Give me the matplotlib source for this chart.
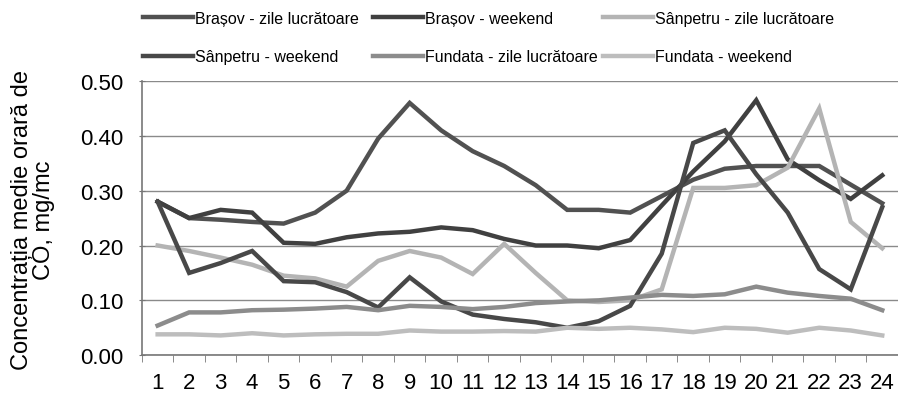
import matplotlib
matplotlib.use("Agg")
import matplotlib.pyplot as plt
from matplotlib.ticker import FixedLocator, FormatStrFormatter

plt.rcParams['font.family'] = ['Liberation Sans', 'DejaVu Sans']

# ore
hours = list(range(1, 25))

brasov_zile = [0.28, 0.25, 0.247, 0.243, 0.24, 0.26, 0.30, 0.395, 0.46, 0.41, 0.372, 0.345,
               0.31, 0.265, 0.265, 0.26, 0.29, 0.32, 0.34, 0.345, 0.345, 0.345, 0.311, 0.277]
brasov_weekend = [0.28, 0.25, 0.265, 0.26, 0.205, 0.203, 0.215, 0.222, 0.225, 0.233, 0.228, 0.212,
                  0.20, 0.20, 0.195, 0.21, 0.273, 0.335, 0.39, 0.465, 0.357, 0.319, 0.285, 0.328]
sanpetru_zile = [0.20, 0.19, 0.178, 0.165, 0.145, 0.14, 0.125, 0.172, 0.19, 0.178, 0.148, 0.203,
                 0.15, 0.10, 0.097, 0.10, 0.12, 0.305, 0.305, 0.31, 0.342, 0.45, 0.243, 0.195]
sanpetru_weekend = [0.28, 0.15, 0.168, 0.19, 0.135, 0.133, 0.115, 0.087, 0.142, 0.098, 0.074, 0.066,
                    0.06, 0.05, 0.062, 0.09, 0.185, 0.387, 0.41, 0.33, 0.26, 0.157, 0.12, 0.27]
fundata_zile = [0.054, 0.078, 0.078, 0.082, 0.083, 0.085, 0.088, 0.082, 0.09, 0.088, 0.084, 0.088,
                0.095, 0.098, 0.10, 0.105, 0.11, 0.108, 0.111, 0.125, 0.114, 0.108, 0.103, 0.082]
fundata_weekend = [0.038, 0.038, 0.036, 0.04, 0.036, 0.038, 0.039, 0.039, 0.045, 0.043, 0.043, 0.044,
                   0.043, 0.05, 0.048, 0.05, 0.047, 0.042, 0.05, 0.048, 0.041, 0.05, 0.045, 0.036]

series = [
    ("Brașov - zile lucrătoare", brasov_zile, "#515151"),
    ("Brașov - weekend", brasov_weekend, "#404040"),
    ("Sânpetru - zile lucrătoare", sanpetru_zile, "#b4b4b4"),
    ("Sânpetru - weekend", sanpetru_weekend, "#484848"),
    ("Fundata - zile lucrătoare", fundata_zile, "#8c8c8c"),
    ("Fundata - weekend", fundata_weekend, "#bdbdbd"),
]

fig = plt.figure(figsize=(8.98, 4.02), dpi=100)
ax = fig.add_axes([0.158, 0.114, 0.842, 0.682])

handles = {}
for name, vals, col in series:
    ln, = ax.plot(hours, vals, color=col, lw=3.2, solid_joinstyle='miter', label=name)
    handles[name] = ln

ax.set_xlim(0.5, 24.5)
ax.set_ylim(0, 0.5)
ax.set_yticks([0, 0.1, 0.2, 0.3, 0.4, 0.5])
ax.yaxis.set_major_formatter(FormatStrFormatter('%.2f'))
ax.set_xticks(hours)
ax.xaxis.set_minor_locator(FixedLocator([h + 0.5 for h in range(0, 25)]))
ax.tick_params(axis='x', which='major', length=0, labelsize=16, pad=12)
ax.tick_params(axis='x', which='minor', length=5, color='#777777', direction='out')
ax.tick_params(axis='y', length=5, color='#777777', direction='inout', labelsize=16, pad=11)

ax.grid(axis='y', color='#8a8a8a', lw=1)
ax.set_axisbelow(True)
for s in ['top', 'right']:
    ax.spines[s].set_visible(False)
for s in ['left', 'bottom']:
    ax.spines[s].set_color('#777777')
    ax.spines[s].set_linewidth(1.2)

fig.text(33 / 898, 1 - 220 / 402, "Concentrația medie orară de\nCO, mg/mc",
         rotation=90, ha='center', va='center', fontsize=17, linespacing=1.05)

# legenda: 3 coloane a cate 2 intrari, fiecare pusa separat
columns = [
    (143, ["Brașov - zile lucrătoare", "Sânpetru - weekend"]),
    (373, ["Brașov - weekend", "Fundata - zile lucrătoare"]),
    (603, ["Sânpetru - zile lucrătoare", "Fundata - weekend"]),
]
for x0, names in columns:
    fig.legend([handles[n] for n in names], names, loc='upper left',
               bbox_to_anchor=(x0 / 898, 1 - 12 / 402), frameon=False, fontsize=11.5,
               handlelength=3.1, handletextpad=0.15,
               labelspacing=1.45, borderpad=0, borderaxespad=0)

plt.savefig('out.png', dpi=100)
